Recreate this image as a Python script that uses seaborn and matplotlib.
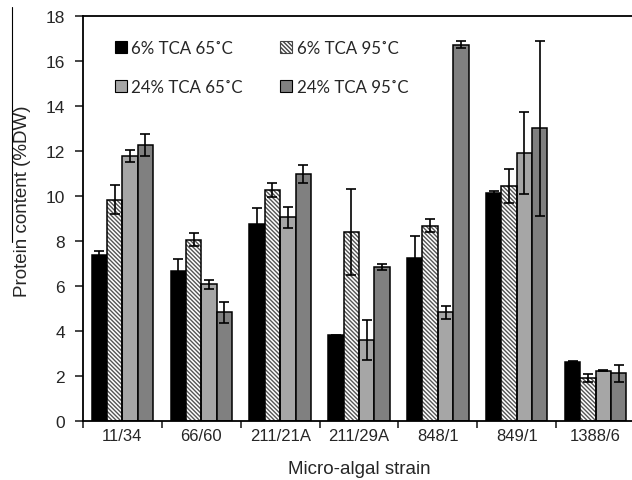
import matplotlib
matplotlib.use('Agg')
import matplotlib.pyplot as plt
from matplotlib.patches import Patch, Rectangle
from matplotlib.lines import Line2D
import pandas as pd
import seaborn as sns

# Data
strains = ['11/34', '66/60', '211/21A', '211/29A', '848/1', '849/1', '1388/6']
treatments = ['6% TCA 65˚C', '6% TCA 95˚C', '24% TCA 65˚C', '24% TCA 95˚C']

tca6_65 = [7.38, 6.68, 8.77, 3.82, 7.26, 10.13, 2.64]
tca6_95 = [9.84, 8.06, 10.27, 8.41, 8.68, 10.44, 1.92]
tca24_65 = [11.79, 6.08, 9.05, 3.61, 4.83, 11.91, 2.24]
tca24_95 = [12.27, 4.83, 10.99, 6.86, 16.73, 13.01, 2.13]

err6_65 = [0.18, 0.50, 0.70, 0.02, 0.98, 0.10, 0.03]
err6_95 = [0.65, 0.30, 0.32, 1.90, 0.28, 0.77, 0.17]
err24_65 = [0.27, 0.20, 0.45, 0.90, 0.30, 1.84, 0.03]
err24_95 = [0.50, 0.48, 0.40, 0.14, 0.16, 3.90, 0.38]

colors = ['#000000', '#ffffff', '#a6a6a6', '#808080']

values = [tca6_65, tca6_95, tca24_65, tca24_95]
errors = [err6_65, err6_95, err24_65, err24_95]

rows = []
for t, vals in zip(treatments, values):
    for s, v in zip(strains, vals):
        rows.append({'strain': s, 'treatment': t, 'protein': v})
df = pd.DataFrame(rows)

sns.set_theme(style='ticks')
plt.rcParams['font.family'] = ['Liberation Sans', 'DejaVu Sans']

fig = plt.figure(figsize=(6.32, 4.81), dpi=100)
ax = fig.add_axes([83 / 632, 59 / 481, 552 / 632, 405 / 481])

sns.barplot(data=df, x='strain', y='protein', hue='treatment',
            order=strains, hue_order=treatments, palette=colors,
            saturation=1, width=0.78, errorbar=None, legend=False,
            edgecolor='black', linewidth=1.1, ax=ax)

hatch = '\\' * 8

# hatched series: grey hatch, black outline on top
for bar in ax.containers[1]:
    bar.set_hatch(hatch)
    bar.set_edgecolor('#555555')
    bar.set_linewidth(0)
    ax.add_patch(Rectangle(bar.get_xy(), bar.get_width(), bar.get_height(),
                           fill=False, edgecolor='black', linewidth=1.1, zorder=bar.get_zorder() + 0.1))

# error bars
for cont, errs in zip(ax.containers, errors):
    xs = [b.get_x() + b.get_width() / 2 for b in cont]
    ys = [b.get_height() for b in cont]
    ax.errorbar(xs, ys, yerr=errs, fmt='none', ecolor='black',
                elinewidth=1.2, capsize=3.3, capthick=1.2, zorder=5)

ax.set_xlim(-0.5, len(strains) - 0.5)
ax.set_ylim(0, 18)
ax.set_yticks(range(0, 19, 2))
ax.set_xticks([i - 0.5 for i in range(len(strains) + 1)], minor=True)
ax.tick_params(axis='x', which='major', length=0, pad=5, labelsize=12)
ax.tick_params(axis='x', which='minor', length=5, width=1.2, direction='out')
ax.tick_params(axis='y', length=6, width=1.2, direction='out', pad=7, labelsize=12.5)

for side in ['left', 'bottom', 'top']:
    ax.spines[side].set_linewidth(1.3)
    ax.spines[side].set_color('black')
ax.spines['right'].set_visible(False)

ax.set_xlabel('Micro-algal strain', fontsize=13.5, labelpad=12)
ax.set_ylabel('Protein content (%DW)', fontsize=13.5)
ax.yaxis.set_label_coords(-0.095, 0.546)

# legend fills column-wise, so order handles to get rows 6% / 24%
order = [0, 2, 1, 3]
handles = [Patch(facecolor=colors[0], edgecolor='black', linewidth=0.8),
           Patch(facecolor=colors[1], edgecolor='#444444', hatch=hatch, linewidth=0.8),
           Patch(facecolor=colors[2], edgecolor='black', linewidth=0.8),
           Patch(facecolor=colors[3], edgecolor='black', linewidth=0.8)]
ax.legend([handles[i] for i in order], [treatments[i] for i in order],
          ncol=2, frameon=False,
          loc='upper left', bbox_to_anchor=(115 / 632, 1 - 41 / 481),
          bbox_transform=fig.transFigure, borderpad=0, borderaxespad=0,
          handlelength=0.72, handleheight=0.72, handletextpad=0.25,
          columnspacing=2.2, labelspacing=1.35,
          prop={'family': ['Lato', 'DejaVu Sans'], 'size': 12.2})

# thin stray line at the left edge of the original figure
fig.add_artist(Line2D([12 / 632, 12 / 632], [1 - 8 / 481, 1 - 243 / 481],
                      color='black', linewidth=0.8, transform=fig.transFigure))

fig.savefig('out.png', dpi=100)
